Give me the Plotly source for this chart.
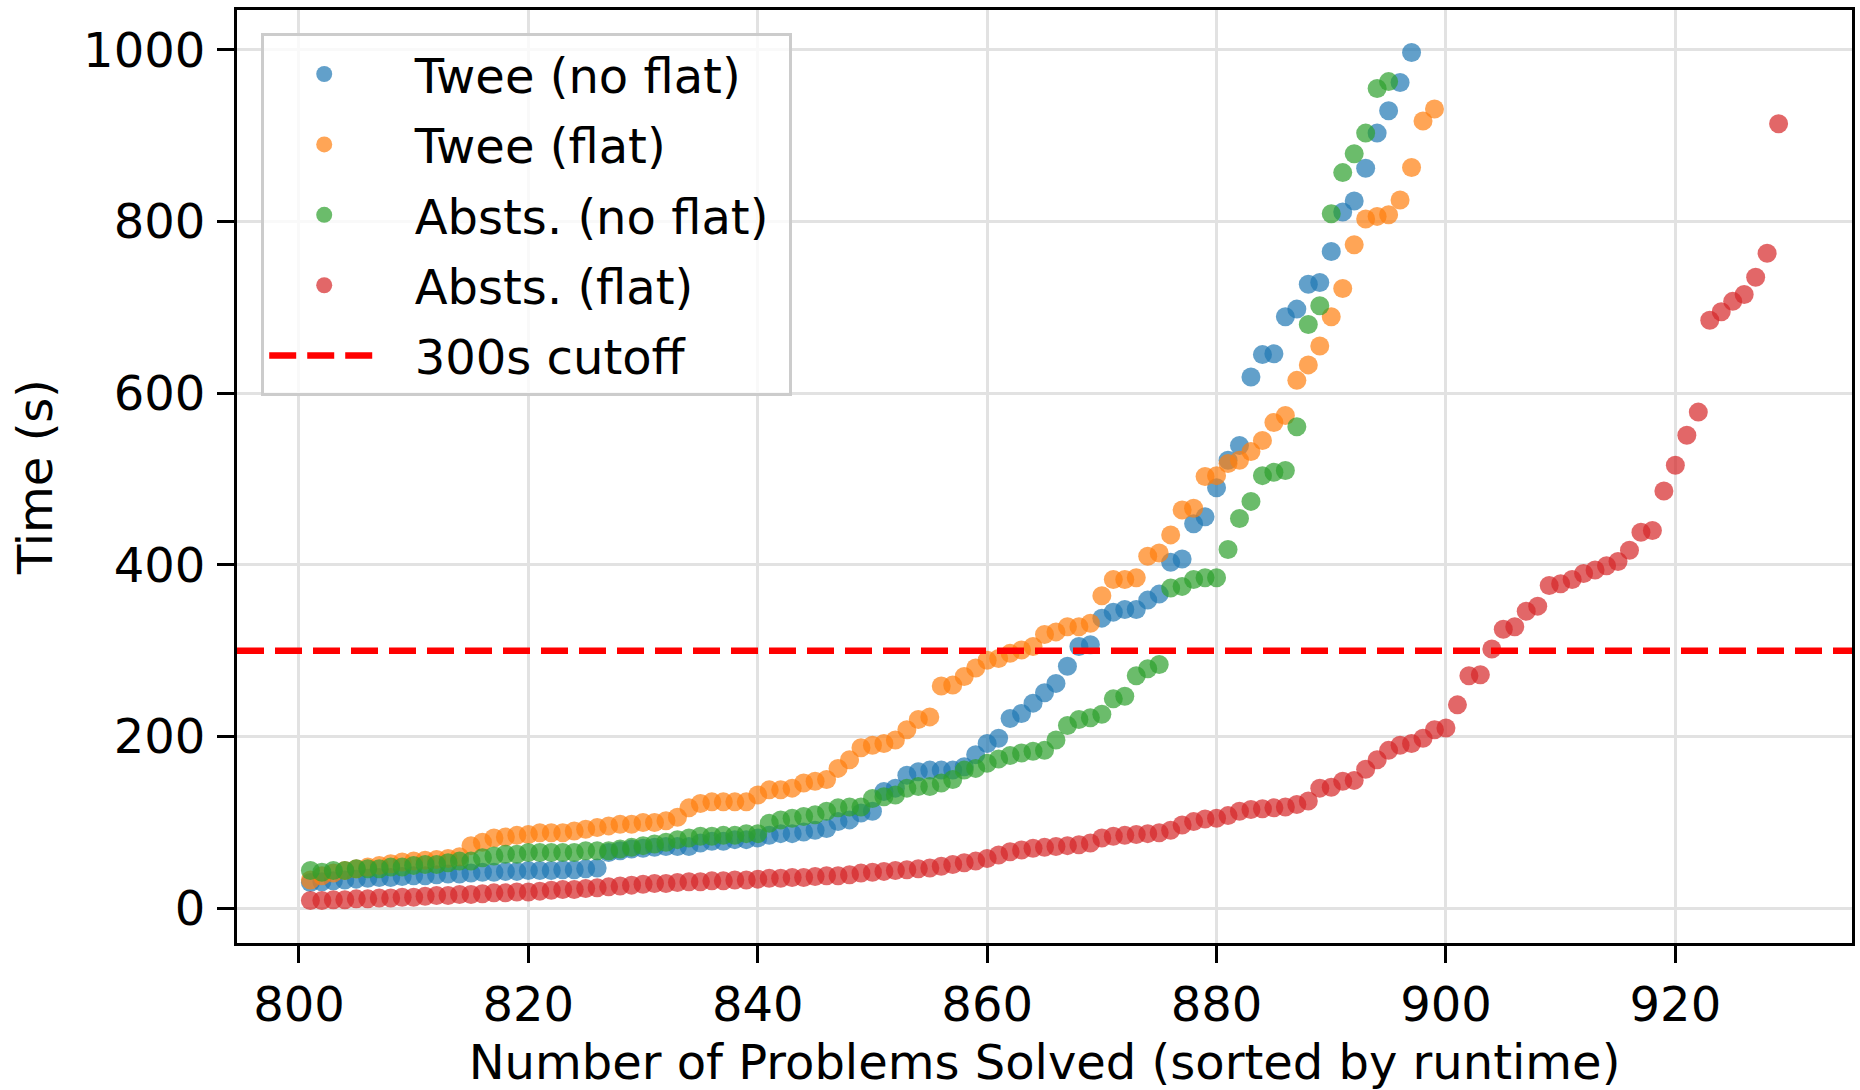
import plotly.graph_objects as go

# ---------------- data ----------------
twee_noflat_start = 801
twee_noflat = [30, 31, 32, 33, 34, 35, 36, 36, 37, 38, 38, 39, 40, 40, 41, 42, 42, 43, 43, 44,
               44, 44, 45, 45, 46, 47,
               65, 67, 69, 70, 71, 72, 72,
               72, 76, 78, 78, 80, 80, 82, 85, 87, 87, 89, 91, 93, 101, 103, 111, 113, 136,
               140, 155, 159, 161, 161, 161, 165, 179, 192, 198, 221, 227, 239, 251, 262, 282, 305,
               307, 338, 345, 348, 348, 359, 366, 403, 407, 448, 456, 490, 522,
               539, 619, 645, 646, 689, 698, 727, 729, 765, 811, 824, 862, 903, 929, 962, 997]

twee_flat_start = 801
twee_flat = [33, 38, 41, 44, 46, 48, 50, 52, 54, 55, 56, 57, 58, 60,
             73, 77, 82, 83, 85, 86, 88, 88, 88, 90, 92, 94, 96, 98, 98, 100, 100, 102,
             106, 117, 122, 124, 124, 124, 124, 132, 138, 138, 140, 146, 148, 150, 163, 173,
             187, 190, 192, 196, 208, 220, 223, 259, 260, 270, 280, 289, 291, 297, 301, 305,
             319, 322, 328, 328,
             332, 364, 383, 383, 385, 410, 414, 435, 464, 466, 503, 504, 518, 522, 532, 545,
             566, 574, 615, 633, 655, 689, 722, 773, 803, 806, 808, 825, 863, 917, 931]

absts_noflat_start = 801
absts_noflat = [44, 42, 44, 44, 46, 46, 46, 48, 48, 50, 51, 51, 53, 55, 55, 59, 61, 63, 63, 65,
                65, 65, 65, 65, 67, 67, 67, 69, 71, 73, 75, 77, 80, 82, 84, 84, 85, 85, 87, 87,
                99, 103, 105, 107, 109, 113, 117, 118, 118, 128, 130, 132, 140, 142, 142, 146,
                150, 161, 163, 169, 174, 178, 181, 183, 184, 196, 213, 220, 222, 226, 244, 247,
                271, 279, 284, 373, 375, 383, 385, 385, 418, 454, 474, 504, 508, 510, 561, 680,
                702, 809, 857, 879, 903, 955, 963]

absts_flat_start = 801
absts_flat = [9, 9, 10, 10, 11, 11, 12, 12, 13, 13, 14, 15, 15, 16, 16, 17, 18, 18, 19, 19,
              20, 21, 22, 22, 23, 24, 25, 26, 27, 28, 29, 29, 30, 31, 31, 32, 32, 33, 33, 34,
              35, 35, 36, 36, 37, 38, 38, 39, 41, 42, 43, 44, 45, 46, 47, 49, 51, 53, 55, 58,
              62, 66, 68, 70, 71, 72, 73, 74, 76, 82, 84, 85, 86, 87, 88, 91, 97, 101, 104, 105,
              108, 113, 115, 116, 117, 118, 121, 125, 140, 141, 148, 149, 162, 173, 184, 190,
              192, 198, 208, 210, 237, 271, 272, 302, 325, 328, 346, 352, 376, 378, 383, 390,
              394, 399, 404, 417, 438, 440, 486, 516, 551, 578, 685, 695, 707, 715, 735, 763, 914]

cutoff = 300
series_names = ["Twee (no flat)", "Twee (flat)", "Absts. (no flat)", "Absts. (flat)"]
cutoff_name = "300s cutoff"
x_title = "Number of Problems Solved (sorted by runtime)"
y_title = "Time (s)"
x_ticks = [800, 820, 840, 860, 880, 900, 920]
y_ticks = [0, 200, 400, 600, 800, 1000]

# ---------------- style ----------------
colors = ["#1f77b4", "#ff7f0e", "#2ca02c", "#d62728"]
FONT = "DejaVu Sans"
FS = 48
PAD_L = "\u00a0\u00a0"   # visual padding between legend symbol and label
PAD_R = "\u00a0"


def legend_label(s):
    return PAD_L + s + PAD_R


series = [(twee_noflat_start, twee_noflat), (twee_flat_start, twee_flat),
          (absts_noflat_start, absts_noflat), (absts_flat_start, absts_flat)]

fig = go.Figure()
all_x, all_y = [], []
for i, ((start, vals), name) in enumerate(zip(series, series_names)):
    xs = list(range(start, start + len(vals)))
    all_x += xs
    all_y += vals
    fig.add_trace(go.Scatter(
        x=xs, y=vals, mode="markers", name=legend_label(name), legendgroup=f"g{i}",
        marker=dict(size=19, color=colors[i], opacity=0.7, line=dict(width=0)),
    ))

xmin, xmax = min(all_x), max(all_x)
ymin, ymax = min(all_y), max(all_y)
xpad = 0.05 * (xmax - xmin)
ypad = 0.05 * (ymax - ymin)
xr = [xmin - xpad, xmax + xpad]
yr = [ymin - ypad, ymax + ypad]

fig.add_trace(go.Scatter(
    x=xr, y=[cutoff, cutoff], mode="lines", name=legend_label(cutoff_name), legendgroup="cut",
    line=dict(color="red", width=6.5, dash="27px,11px"),
))

axis_common = dict(
    showline=True, linecolor="black", linewidth=3.3, mirror=True,
    ticks="outside", ticklen=17, tickwidth=3.3, tickcolor="black",
    showgrid=True, gridcolor="#e2e2e2", gridwidth=3.3,
    zeroline=False,
    tickfont=dict(family=FONT, size=FS, color="black"),
)

fig.update_xaxes(range=xr, tickvals=x_ticks, ticklabelstandoff=0,
                 title=dict(text=x_title, font=dict(family=FONT, size=FS, color="black"), standoff=30),
                 **axis_common)
fig.update_yaxes(range=yr, tickvals=y_ticks, ticklabelstandoff=2,
                 title=dict(text=y_title, font=dict(family=FONT, size=FS, color="black"), standoff=16),
                 **axis_common)

fig.update_layout(
    width=1860, height=1090,
    margin=dict(l=237, r=8, t=10, b=147, autoexpand=False),
    paper_bgcolor="white", plot_bgcolor="white",
    font=dict(family=FONT, size=FS, color="black"),
    showlegend=True,
    legend=dict(
        x=0.015, y=0.975, xanchor="left", yanchor="top",
        bgcolor="rgba(255,255,255,0.8)", bordercolor="#cccccc", borderwidth=3,
        font=dict(family=FONT, size=FS, color="black"),
        itemwidth=110, tracegroupgap=5, itemsizing="trace",
    ),
)

fig.write_html("out.html", config={"displayModeBar": False},
               post_script="document.body.style.margin='0';")
